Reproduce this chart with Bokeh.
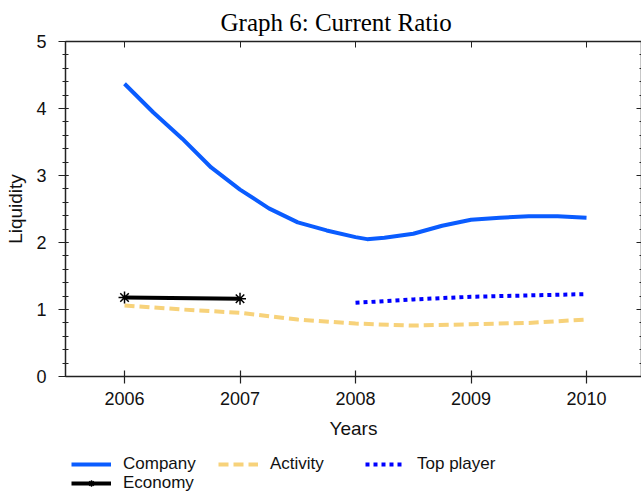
from bokeh.plotting import figure
from bokeh.layouts import column
from bokeh.models import (Range1d, LinearAxis, FixedTicker, Legend, LegendItem)
from bokeh.embed import file_html
from bokeh.resources import INLINE

# ---- data ----
years = [2006, 2007, 2008, 2009, 2010]
year_labels = ["2006", "2007", "2008", "2009", "2010"]

company_x = [2006.0, 2006.25, 2006.5, 2006.75, 2007.0, 2007.25, 2007.5, 2007.75,
             2008.0, 2008.1, 2008.25, 2008.5, 2008.75, 2009.0, 2009.25, 2009.5,
             2009.75, 2010.0]
company_y = [4.37, 3.94, 3.55, 3.12, 2.79, 2.51, 2.30, 2.18,
             2.08, 2.05, 2.07, 2.13, 2.25, 2.34, 2.37, 2.39,
             2.39, 2.37]

activity_x = [2006.0, 2006.5, 2007.0, 2007.5, 2008.0, 2008.5, 2009.0, 2009.5, 2010.0]
activity_y = [1.06, 1.00, 0.95, 0.85, 0.79, 0.76, 0.78, 0.80, 0.85]

top_x = [2008.0, 2008.5, 2009.0, 2009.5, 2010.0]
top_y = [1.10, 1.15, 1.19, 1.21, 1.23]

economy_x = [2006, 2007]
economy_y = [1.18, 1.16]

series_names = ["Company", "Activity", "Top player", "Economy"]

SANS = "Liberation Sans"

STYLE = {
    "Company": dict(line_color="#0a5cff", line_width=4),
    "Activity": dict(line_color="#f7d27a", line_width=4, line_dash="10 5"),
    "Top player": dict(line_color="#0000ff", line_width=4, line_dash="4 4"),
    "Economy": dict(line_color="black", line_width=4),
}
MARKER = dict(marker="asterisk", size=12, line_color="black", line_width=1.5)
DATA = {
    "Company": (company_x, company_y),
    "Activity": (activity_x, activity_y),
    "Top player": (top_x, top_y),
    "Economy": (economy_x, economy_y),
}

p = figure(output_backend="svg", toolbar_location=None,
           frame_width=576, frame_height=335,
           min_border_left=65, min_border_top=41, min_border_bottom=76,
           min_border_right=0,
           x_range=Range1d(2005.489, 2010.476), y_range=Range1d(0, 5),
           x_axis_label="Years", y_axis_label="Liquidity")

p.title.text = "Graph 6: Current Ratio"
p.title.text_font = "Liberation Serif"
p.title.text_font_size = "25px"
p.title.text_font_style = "normal"
p.title.text_color = "black"
p.title.align = "left"
p.title.offset = 155
p.title.standoff = 11

p.grid.visible = False
p.outline_line_color = None

xa = p.xaxis[0]
xa.ticker = FixedTicker(ticks=years)
xa.major_label_overrides = {y: s for y, s in zip(years, year_labels)}
xa.major_tick_in = 6
xa.major_tick_out = 7
xa.major_label_standoff = 8

ya = p.yaxis[0]
ya.ticker = FixedTicker(ticks=[0, 1, 2, 3, 4, 5],
                        minor_ticks=[i / 5 for i in range(26)])
ya.major_tick_in = 3
ya.major_tick_out = 7
ya.minor_tick_in = 3
ya.minor_tick_out = 3
ya.major_label_standoff = 12

for ax in (xa, ya):
    ax.axis_line_color = "#222222"
    ax.axis_line_width = 1.5
    ax.major_tick_line_color = "#222222"
    ax.major_tick_line_width = 1.2
    ax.major_label_text_font = SANS
    ax.major_label_text_font_size = "18px"
    ax.major_label_text_color = "#111111"
    ax.axis_label_text_font = SANS
    ax.axis_label_text_font_size = "19px"
    ax.axis_label_text_font_style = "normal"
    ax.axis_label_text_color = "#111111"
xa.minor_tick_line_color = None
ya.minor_tick_line_color = "#222222"
xa.axis_label_standoff = 10
ya.axis_label_standoff = 7

top = LinearAxis(ticker=FixedTicker(ticks=years), major_tick_in=6, major_tick_out=0,
                 major_label_text_font_size="1px", major_label_text_color=None,
                 major_label_standoff=0,
                 minor_tick_line_color=None, axis_line_width=1.5,
                 axis_line_color="#222222", major_tick_line_color="#222222")
p.add_layout(top, "above")
right = LinearAxis(ticker=FixedTicker(ticks=[0, 1, 2, 3, 4, 5],
                                      minor_ticks=[i / 5 for i in range(26)]),
                   major_tick_in=5, major_tick_out=0, minor_tick_in=2, minor_tick_out=0,
                   major_label_text_font_size="1px", major_label_text_color=None,
                   major_label_standoff=0,
                   axis_line_width=1.5, axis_line_color="#222222",
                   major_tick_line_color="#222222", minor_tick_line_color="#222222")
p.add_layout(right, "right")

for name in series_names:
    xs, ys = DATA[name]
    p.line(xs, ys, **STYLE[name])
p.scatter(economy_x, economy_y, **MARKER)

# ---- legend strip below the chart (its own renderers sit outside its view) ----
lg = figure(output_backend="svg", toolbar_location=None,
            width=643, height=44, min_border=0,
            x_range=Range1d(0, 1), y_range=Range1d(0, 1))
lg.axis.visible = False
lg.grid.visible = False
lg.outline_line_color = None

items = {}
for name in series_names:
    xs, ys = DATA[name]
    rs = [lg.line(xs, ys, **STYLE[name])]
    if name == "Economy":
        rs.append(lg.scatter(xs, ys, **MARKER))
    items[name] = LegendItem(label=name, renderers=rs)

legend_style = dict(orientation="horizontal",
                    glyph_width=40, glyph_height=16, label_standoff=12, spacing=12,
                    label_width=83, label_height=17,
                    label_text_font=SANS, label_text_font_size="17px",
                    label_text_color="#111111",
                    padding=0, margin=0,
                    border_line_color=None, background_fill_alpha=0)

legend1 = Legend(items=[items["Company"], items["Activity"], items["Top player"]],
                 location=(6, 22), **legend_style)
legend2 = Legend(items=[items["Economy"]], location=(6, 3), **legend_style)
lg.add_layout(legend1, "center")
lg.add_layout(legend2, "center")

layout = column(p, lg, spacing=0)

open("out.html", "w").write(file_html(layout, INLINE))
